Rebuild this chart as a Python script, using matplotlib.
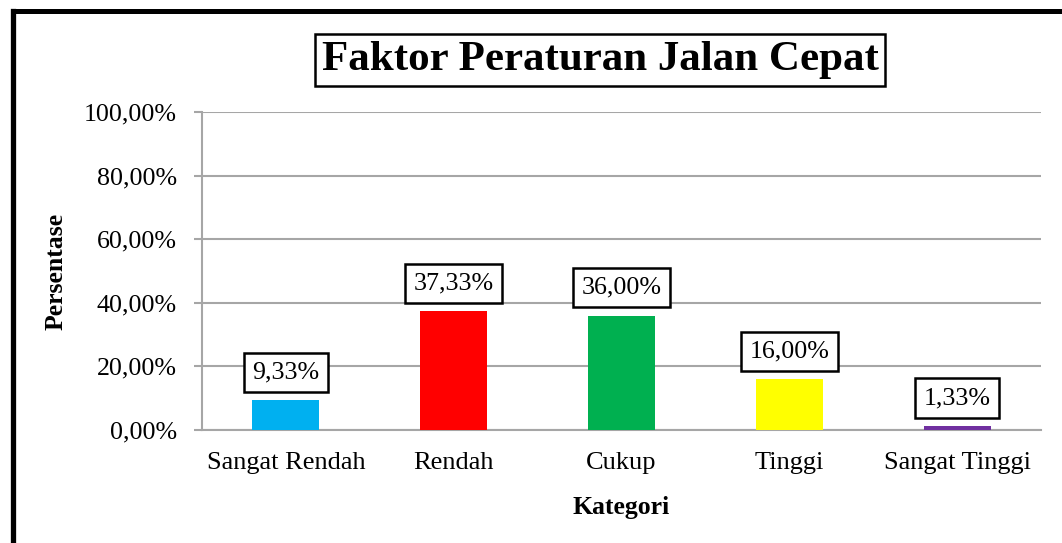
import matplotlib
matplotlib.use("Agg")
import matplotlib.pyplot as plt
from matplotlib.lines import Line2D
from matplotlib.ticker import FuncFormatter

categories = ["Sangat Rendah", "Rendah", "Cukup", "Tinggi", "Sangat Tinggi"]
values = [9.33, 37.33, 36.00, 16.00, 1.33]
colors = ["#00B0F0", "#FF0000", "#00B050", "#FFFF00", "#7030A0"]
yticks = [0, 20, 40, 60, 80, 100]

plt.rcParams['font.family'] = ['Liberation Serif', 'DejaVu Serif']

W, H = 1062, 543
fig = plt.figure(figsize=(W / 100, H / 100), dpi=100)
ax = fig.add_axes([202 / W, 1 - 430 / H, (1041 - 202) / W, (430 - 112) / H])

x = list(range(len(categories)))
ax.bar(x, values, width=0.40, color=colors, zorder=3)
ax.set_xlim(-0.5, len(categories) - 0.5)
ax.set_ylim(0, 100)
ax.set_yticks(yticks)
ax.yaxis.set_major_formatter(FuncFormatter(lambda v, p: f"{v:.2f}%".replace(".", ",")))
ax.set_xticks(x)
ax.set_xticklabels(categories)

grid_c = "#A6A6A6"
ax.grid(axis="y", color=grid_c, linewidth=1.5, zorder=0)
for s in ["top", "right"]:
    ax.spines[s].set_visible(False)
ax.spines["left"].set_color(grid_c)
ax.spines["left"].set_linewidth(1.5)
ax.spines["bottom"].set_color(grid_c)
ax.spines["bottom"].set_linewidth(1.5)
ax.tick_params(axis="y", direction="out", length=6, width=1.5, color=grid_c, labelsize=18.7, pad=12)
ax.tick_params(axis="x", length=0, labelsize=19, pad=16)

for xi, v in zip(x, values):
    ax.annotate(f"{v:.2f}%".replace(".", ","), xy=(xi, v), xytext=(0, 20),
                textcoords="offset points", ha="center", va="center", fontsize=18.7,
                bbox=dict(boxstyle="square,pad=0.33", fc="white", ec="black", lw=1.8),
                zorder=5)

ax.set_ylabel("Persentase", fontsize=18.5, fontweight="bold", labelpad=12)
ax.set_xlabel("Kategori", fontsize=18.5, fontweight="bold", labelpad=16)

fig.text(600 / W, 1 - 60 / H, "Faktor Peraturan Jalan Cepat", ha="center", va="center",
         fontsize=31, fontweight="bold",
         bbox=dict(boxstyle="square,pad=0.16", fc="white", ec="black", lw=1.8))

fig.add_artist(Line2D([12.5 / W, 12.5 / W], [-0.1, 1 - 11 / H], color="black", lw=3.8,
                      transform=fig.transFigure, solid_capstyle="projecting"))
fig.add_artist(Line2D([12.5 / W, 1.1], [1 - 11 / H, 1 - 11 / H], color="black", lw=3.6,
                      transform=fig.transFigure, solid_capstyle="projecting"))

fig.savefig("out.png", dpi=100)
